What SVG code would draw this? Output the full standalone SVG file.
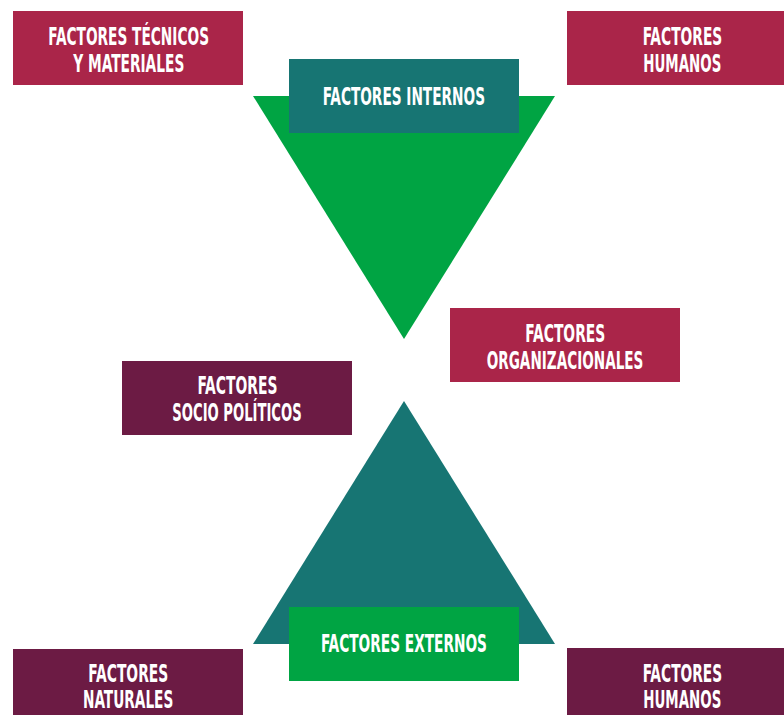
<svg xmlns="http://www.w3.org/2000/svg" width="784" height="715" viewBox="0 0 784 715">
  <style>
    .crimson { fill: #AA2549; }
    .purple { fill: #6C1B44; }
    .teal { fill: #177573; }
    .green { fill: #00A443; }
    .lbl { fill: #FFFFFF; font-family: "Liberation Sans Narrow", "DejaVu Sans Condensed", "Liberation Sans", sans-serif; font-weight: bold; font-size: 25px; }
  </style>
  <rect x="0" y="0" width="784" height="715" fill="#FFFFFF"/>

  <g id="triangle-internos">
    <polygon class="green" points="253,96 555,96 404,339"/>
  </g>
  <g id="triangle-externos">
    <polygon class="teal" points="404,401 555,644 253,644"/>
  </g>

  <g id="connectors"></g>

  <g id="node-tecnicos">
    <rect class="crimson" x="13" y="11" width="230" height="74"/>
    <text class="lbl" x="48.3" y="45" textLength="160.7" lengthAdjust="spacingAndGlyphs">FACTORES TÉCNICOS</text>
    <text class="lbl" x="73.3" y="71.7" textLength="111" lengthAdjust="spacingAndGlyphs">Y MATERIALES</text>
  </g>

  <g id="node-humanos-internos">
    <rect class="crimson" x="567" y="11" width="230" height="74"/>
    <text class="lbl" x="642.7" y="45" textLength="79.6" lengthAdjust="spacingAndGlyphs">FACTORES</text>
    <text class="lbl" x="643.3" y="71.7" textLength="78" lengthAdjust="spacingAndGlyphs">HUMANOS</text>
  </g>

  <g id="node-internos">
    <rect class="teal" x="289" y="59" width="230" height="74"/>
    <text class="lbl" x="322.7" y="105" textLength="162.3" lengthAdjust="spacingAndGlyphs">FACTORES INTERNOS</text>
  </g>

  <g id="node-organizacionales">
    <rect class="crimson" x="450" y="308" width="230" height="74"/>
    <text class="lbl" x="525.3" y="342.3" textLength="80" lengthAdjust="spacingAndGlyphs">FACTORES</text>
    <text class="lbl" x="486.7" y="369" textLength="156.7" lengthAdjust="spacingAndGlyphs">ORGANIZACIONALES</text>
  </g>

  <g id="node-sociopoliticos">
    <rect class="purple" x="122" y="361" width="230" height="74"/>
    <text class="lbl" x="197.4" y="394.3" textLength="80" lengthAdjust="spacingAndGlyphs">FACTORES</text>
    <text class="lbl" x="172.3" y="421" textLength="129.4" lengthAdjust="spacingAndGlyphs">SOCIO POLÍTICOS</text>
  </g>

  <g id="node-externos">
    <rect class="green" x="289" y="607" width="230" height="74"/>
    <text class="lbl" x="321" y="652.3" textLength="166" lengthAdjust="spacingAndGlyphs">FACTORES EXTERNOS</text>
  </g>

  <g id="node-naturales">
    <rect class="purple" x="13" y="649" width="230" height="74"/>
    <text class="lbl" x="88.3" y="681.7" textLength="80" lengthAdjust="spacingAndGlyphs">FACTORES</text>
    <text class="lbl" x="83" y="708" textLength="90.3" lengthAdjust="spacingAndGlyphs">NATURALES</text>
  </g>

  <g id="node-humanos-externos">
    <rect class="purple" x="567" y="648" width="230" height="74"/>
    <text class="lbl" x="642.7" y="681.7" textLength="79.5" lengthAdjust="spacingAndGlyphs">FACTORES</text>
    <text class="lbl" x="643.3" y="708" textLength="78" lengthAdjust="spacingAndGlyphs">HUMANOS</text>
  </g>
</svg>
